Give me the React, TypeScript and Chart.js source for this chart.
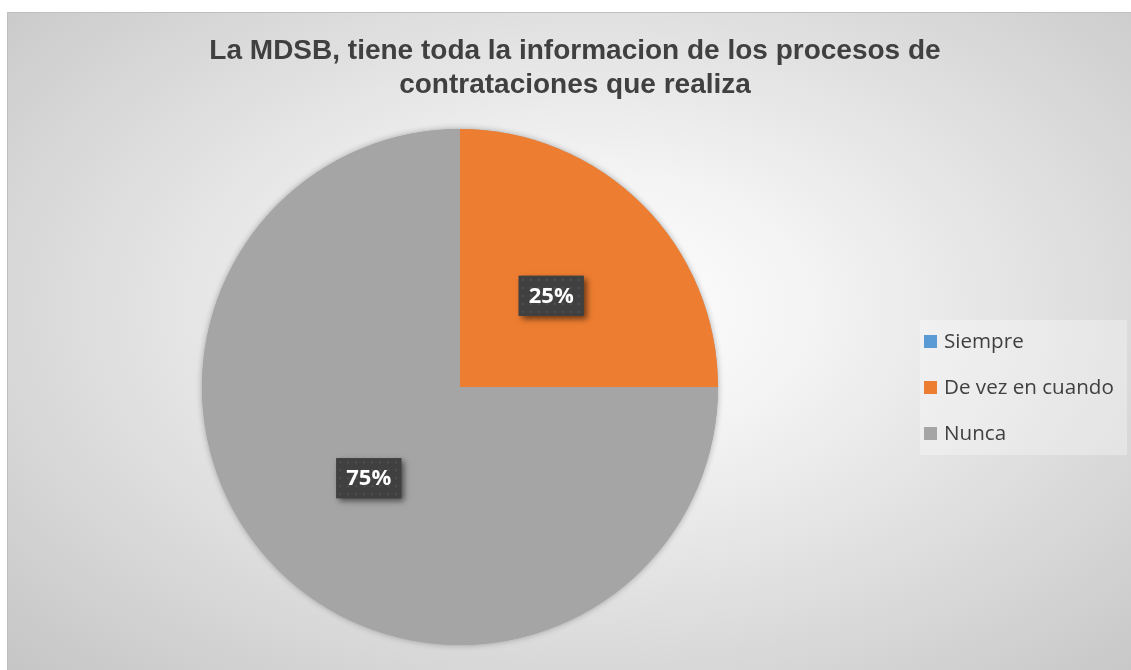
import React, { useEffect, useRef } from "react";
import { Chart, registerables } from "chart.js";

Chart.register(...registerables);

const titleLines = [
  "La MDSB, tiene toda la informacion de los procesos de",
  "contrataciones que realiza",
];
const categories = ["Siempre", "De vez en cuando", "Nunca"];
const values = [0, 25, 75];
const colors = ["#5B9BD5", "#ED7D31", "#A5A5A5"];

const W = 1124;
const H = 658;

function makeDotPattern(ctx: CanvasRenderingContext2D) {
  const c = document.createElement("canvas");
  c.width = 8;
  c.height = 8;
  const g = c.getContext("2d")!;
  g.fillStyle = "#404040";
  g.fillRect(0, 0, 8, 8);
  g.fillStyle = "#505050";
  g.fillRect(3, 3, 2, 2);
  return ctx.createPattern(c, "repeat");
}

const customPlugin = {
  id: "custom",
  beforeDatasetsDraw(chart: any) {
    const meta = chart.getDatasetMeta(0);
    const arc = meta.data[0];
    if (!arc) return;
    const { x, y, outerRadius } = arc.getProps(["x", "y", "outerRadius"], true);
    const ctx = chart.ctx;
    ctx.save();
    ctx.shadowColor = "rgba(0,0,0,0.3)";
    ctx.shadowBlur = 6;
    ctx.fillStyle = "#A5A5A5";
    ctx.beginPath();
    ctx.arc(x, y, outerRadius, 0, Math.PI * 2);
    ctx.fill();
    ctx.restore();
  },
  afterDraw(chart: any) {
    const ctx: CanvasRenderingContext2D = chart.ctx;
    // Title
    ctx.save();
    ctx.fillStyle = "#404040";
    ctx.font = "bold 28px 'Liberation Sans', Arial, sans-serif";
    ctx.textAlign = "center";
    ctx.textBaseline = "middle";
    ctx.fillText(titleLines[0], 568, 39);
    ctx.fillText(titleLines[1], 568, 73);
    ctx.restore();

    // Legend
    ctx.save();
    ctx.fillStyle = "rgba(255,255,255,0.3)";
    ctx.fillRect(913, 308, 207, 135);
    ctx.font = "20.6px 'Open Sans', sans-serif";
    ctx.textBaseline = "middle";
    ctx.textAlign = "left";
    categories.forEach((c, i) => {
      const cy = 330 + i * 46;
      ctx.fillStyle = colors[i];
      ctx.fillRect(917, cy - 7, 13, 13);
      ctx.fillStyle = "#404040";
      ctx.fillText(c, 937, cy);
    });
    ctx.restore();

    // Data labels
    const meta = chart.getDatasetMeta(0);
    const total = values.reduce((a, b) => a + b, 0);
    const pattern = makeDotPattern(ctx);
    meta.data.forEach((arc: any, i: number) => {
      if (!values[i]) return;
      const p = arc.tooltipPosition(true);
      const txt = Math.round((values[i] / total) * 100) + "%";
      const bw = 65;
      const bh = 40;
      const bx = p.x - bw / 2;
      const by = p.y - bh / 2;
      ctx.save();
      ctx.shadowColor = "rgba(0,0,0,0.55)";
      ctx.shadowBlur = 6;
      ctx.shadowOffsetX = 3;
      ctx.shadowOffsetY = 3;
      ctx.fillStyle = "#404040";
      ctx.fillRect(bx, by, bw, bh);
      ctx.restore();
      ctx.save();
      ctx.translate(bx, by);
      ctx.fillStyle = pattern || "#404040";
      ctx.fillRect(0, 0, bw, bh);
      ctx.restore();
      ctx.save();
      ctx.fillStyle = "#ffffff";
      ctx.font = "bold 22px 'Open Sans', sans-serif";
      ctx.textAlign = "center";
      ctx.textBaseline = "middle";
      ctx.fillText(txt, p.x, p.y + 1);
      ctx.restore();
    });
  },
};

export default function App() {
  const ref = useRef<HTMLCanvasElement | null>(null);
  useEffect(() => {
    if (!ref.current) return;
    const chart = new Chart(ref.current, {
      type: "pie",
      data: {
        labels: categories,
        datasets: [
          {
            data: values,
            backgroundColor: colors,
            borderWidth: 0,
          },
        ],
      },
      options: {
        responsive: false,
        animation: false,
        devicePixelRatio: 1,
        rotation: 0,
        layout: { padding: { top: 117, bottom: 25, left: 12, right: 230 } },
        plugins: {
          legend: { display: false },
          title: { display: false },
          tooltip: { enabled: false },
        },
      },
      plugins: [customPlugin],
    });
    return () => chart.destroy();
  }, []);
  return (
    <div
      style={{
        position: "absolute",
        left: 7,
        top: 12,
        width: W,
        height: H,
        boxSizing: "border-box",
        borderTop: "1px solid #bfbfbf",
        borderLeft: "1px solid #bfbfbf",
        background:
          "radial-gradient(ellipse 75% 80% at 52% 45%, #ffffff 0%, #f4f4f4 25%, #c4c4c4 100%)",
        overflow: "hidden",
      }}
    >
      <canvas
        ref={ref}
        width={W}
        height={H}
        style={{ position: "absolute", left: -1, top: -1, width: W, height: H }}
      />
    </div>
  );
}
